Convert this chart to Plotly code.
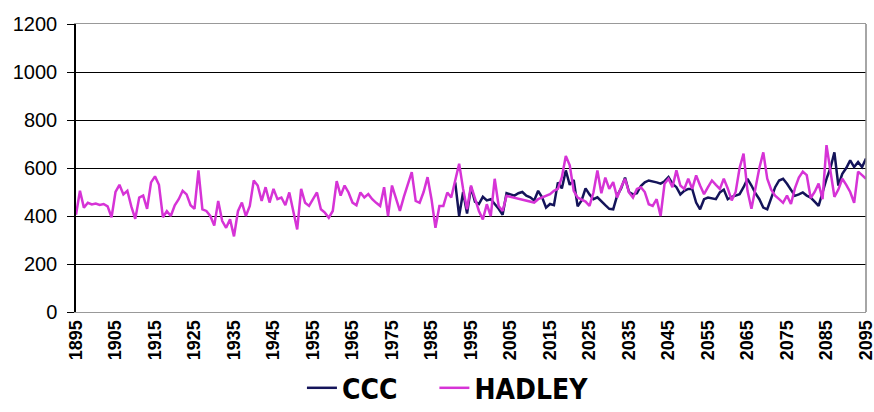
import plotly.graph_objects as go

years = list(range(1895, 2096))

hadley = [
    405, 505, 435, 455, 448, 452, 446, 450, 440, 395,   # 1895-1904
    500, 530, 490, 505, 440, 388, 477, 485, 430, 540,   # 1905-1914
    565, 530, 395, 420, 400, 445, 470, 505, 490, 445,   # 1915-1924
    430, 590, 428, 421, 400, 360, 463, 380, 351, 386,   # 1925-1934
    315, 420, 456, 400, 442, 548, 527, 463, 520, 456,   # 1935-1944
    513, 470, 477, 445, 498, 421, 344, 513, 455, 442,   # 1945-1954
    470, 498, 428, 414, 393, 421, 545, 485, 527, 498,   # 1955-1964
    456, 445, 498, 477, 491, 470, 455, 442, 520, 400,   # 1965-1974
    527, 470, 421, 480, 530, 583, 463, 455, 500, 562,   # 1975-1984
    470, 351, 442, 442, 498, 477, 548, 618, 513, 428,   # 1985-1994
    527, 470, 421, 386, 449, 400, 555, 442, 421, 484,   # 1995-2004
    480, 477, 472, 470, 465, 463, 456, 470, 477, 485,   # 2005-2014
    491, 505, 513, 562, 650, 611, 505, 477, 470, 460,   # 2015-2024
    442, 498, 590, 495, 560, 513, 541, 477, 520, 555,   # 2025-2034
    498, 477, 513, 520, 500, 449, 442, 470, 400, 534,   # 2035-2044
    555, 520, 590, 527, 513, 555, 513, 569, 527, 491,   # 2045-2054
    520, 548, 530, 513, 555, 515, 465, 500, 600, 660,   # 2055-2064
    505, 430, 515, 600, 665, 555, 510, 485, 470, 455,   # 2065-2074
    485, 450, 515, 560, 585, 570, 475, 500, 535, 470,   # 2075-2084
    695, 585, 480, 510, 555, 530, 500, 455, 585, 570,   # 2085-2094
    555,                                                # 2095
]

ccc_years = list(range(1991, 2096))
ccc = [
    540, 400, 500, 410,                                 # 1991-1994
    520, 460, 450, 480, 465, 470, 450, 430, 405, 495,   # 1995-2004
    490, 485, 495, 500, 485, 478, 465, 505, 478, 435,   # 2005-2014
    450, 445, 540, 515, 590, 530, 550, 440, 465, 515,   # 2015-2024
    490, 470, 478, 460, 445, 430, 428, 485, 515, 560,   # 2025-2034
    500, 490, 495, 525, 540, 548, 545, 540, 535, 545,   # 2035-2044
    562, 535, 520, 490, 505, 513, 513, 456, 428, 470,   # 2045-2054
    477, 475, 470, 498, 510, 470, 480, 485, 491, 520,   # 2055-2064
    555, 527, 495, 470, 435, 428, 477, 520, 548, 555,   # 2065-2074
    534, 510, 484, 490, 498, 485, 477, 460, 442, 498,   # 2075-2084
    555, 600, 665, 527, 576, 600, 632, 604, 625, 604,   # 2085-2094
    640,                                                # 2095
]

x_ticks = list(range(1895, 2096, 10))
y_ticks = [0, 200, 400, 600, 800, 1000, 1200]

assert len(hadley) == len(years)
assert len(ccc) == len(ccc_years)

fig = go.Figure()
fig.add_trace(go.Scatter(x=ccc_years, y=ccc, mode="lines",
                         name="<b>CCC</b>&nbsp;&nbsp;&nbsp;&nbsp;",
                         line=dict(color="#14145a", width=2.5)))
fig.add_trace(go.Scatter(x=years, y=hadley, mode="lines", name="<b>HADLEY</b>",
                         line=dict(color="#d633d6", width=2.5)))

fig.update_layout(
    width=874, height=412,
    margin=dict(l=76, r=8, t=24, b=100, autoexpand=False),
    paper_bgcolor="white", plot_bgcolor="white",
    font=dict(family="Arial, Liberation Sans, sans-serif", color="black"),
    showlegend=True,
    legend=dict(orientation="h", x=0.286, xanchor="left",
                yref="container", y=0.058, yanchor="middle",
                font=dict(size=28, color="black",
                          family="Liberation Sans Narrow, DejaVu Sans Condensed, Arial"),
                bgcolor="rgba(0,0,0,0)"),
)
fig.update_xaxes(
    range=[1895, 2095], tickmode="array", tickvals=x_ticks,
    ticktext=["<b>%d</b>" % t for t in x_ticks],
    tickangle=-90, tickfont=dict(size=18, color="black"),
    showgrid=False, showline=True, linecolor="#999999", linewidth=1,
    mirror=True, zeroline=False, ticks="", automargin=False,
    ticklabeloverflow="allow",
)
fig.update_yaxes(
    range=[0, 1200], tickmode="array", tickvals=y_ticks,
    tickfont=dict(size=20, color="black"),
    showgrid=True, gridcolor="black", gridwidth=1.2,
    showline=True, linecolor="black", linewidth=1.5,
    ticks="outside", ticklen=7, tickcolor="black", zeroline=False,
    ticklabelstandoff=6, automargin=False,
)
fig.add_shape(type="line", xref="paper", yref="paper", x0=1, x1=1, y0=0, y1=1,
              line=dict(color="#888888", width=1.5))

fig.write_html(
    "out.html",
    config={"displayModeBar": False},
    post_script="document.body.style.margin='0';document.body.style.overflow='hidden';",
)
